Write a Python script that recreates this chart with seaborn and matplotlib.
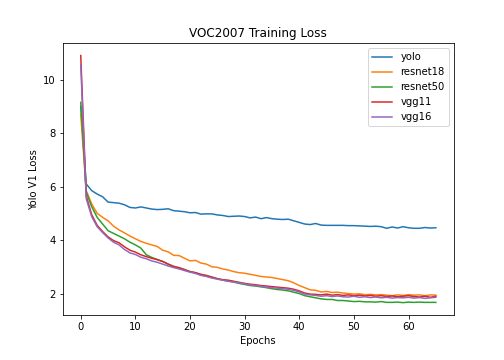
import matplotlib
matplotlib.use("Agg")
import matplotlib.pyplot as plt
import seaborn as sns
import numpy as np
import pandas as pd

epochs = list(range(66))

yolo = [9.0, 6.1, 5.85, 5.72, 5.62, 5.42, 5.40, 5.38, 5.32, 5.22,
        5.20, 5.24, 5.20, 5.16, 5.14, 5.15, 5.17, 5.10, 5.08, 5.06,
        5.02, 5.03, 4.97, 4.98, 4.98, 4.94, 4.92, 4.88, 4.89, 4.90,
        4.88, 4.83, 4.86, 4.80, 4.84, 4.80, 4.78, 4.77, 4.78, 4.72,
        4.66, 4.60, 4.58, 4.62, 4.56, 4.55, 4.55, 4.55, 4.55, 4.54,
        4.54, 4.53, 4.52, 4.51, 4.52, 4.50, 4.44, 4.49, 4.45, 4.50,
        4.46, 4.44, 4.44, 4.47, 4.45, 4.46]

resnet18 = [8.7, 5.85, 5.35, 5.0, 4.85, 4.72, 4.52, 4.38, 4.27, 4.15,
            4.05, 3.95, 3.88, 3.82, 3.76, 3.62, 3.56, 3.43, 3.42, 3.32,
            3.22, 3.24, 3.14, 3.10, 3.00, 2.98, 2.92, 2.88, 2.82, 2.78,
            2.76, 2.72, 2.68, 2.64, 2.62, 2.60, 2.56, 2.52, 2.48, 2.40,
            2.30, 2.22, 2.14, 2.12, 2.06, 2.08, 2.04, 2.05, 2.02, 2.00,
            1.98, 1.99, 1.96, 1.97, 1.95, 1.96, 1.94, 1.92, 1.95, 1.93,
            1.96, 1.94, 1.95, 1.92, 1.95, 1.94]

resnet50 = [9.15, 5.8, 5.25, 4.85, 4.6, 4.35, 4.25, 4.15, 4.05, 3.92,
            3.82, 3.70, 3.45, 3.35, 3.27, 3.20, 3.10, 3.00, 2.95, 2.88,
            2.82, 2.78, 2.70, 2.65, 2.60, 2.55, 2.50, 2.47, 2.43, 2.38,
            2.34, 2.30, 2.28, 2.25, 2.22, 2.18, 2.15, 2.13, 2.10, 2.05,
            2.00, 1.92, 1.88, 1.84, 1.80, 1.78, 1.78, 1.74, 1.74, 1.72,
            1.70, 1.71, 1.69, 1.69, 1.68, 1.70, 1.67, 1.67, 1.68, 1.66,
            1.68, 1.67, 1.68, 1.67, 1.67, 1.67]

vgg11 = [10.9, 5.65, 4.95, 4.55, 4.32, 4.12, 3.98, 3.90, 3.75, 3.62,
         3.55, 3.45, 3.38, 3.32, 3.27, 3.20, 3.10, 3.02, 2.97, 2.90,
         2.82, 2.78, 2.72, 2.68, 2.62, 2.56, 2.52, 2.50, 2.46, 2.42,
         2.38, 2.35, 2.33, 2.30, 2.28, 2.26, 2.24, 2.22, 2.20, 2.16,
         2.10, 2.02, 1.98, 1.97, 1.95, 1.98, 1.94, 1.96, 1.93, 1.95,
         1.92, 1.94, 1.91, 1.93, 1.90, 1.92, 1.89, 1.91, 1.88, 1.90,
         1.92, 1.89, 1.87, 1.90, 1.86, 1.90]

vgg16 = [10.55, 5.55, 4.88, 4.5, 4.28, 4.08, 3.92, 3.82, 3.65, 3.52,
         3.46, 3.36, 3.30, 3.22, 3.17, 3.10, 3.03, 2.97, 2.92, 2.86,
         2.80, 2.75, 2.68, 2.64, 2.58, 2.54, 2.50, 2.46, 2.43, 2.40,
         2.36, 2.32, 2.30, 2.27, 2.24, 2.22, 2.20, 2.18, 2.16, 2.12,
         2.06, 1.98, 1.95, 1.93, 1.90, 1.92, 1.89, 1.91, 1.88, 1.87,
         1.90, 1.86, 1.88, 1.85, 1.87, 1.84, 1.86, 1.83, 1.85, 1.84,
         1.86, 1.83, 1.85, 1.82, 1.84, 1.86]

models = {'yolo': yolo, 'resnet18': resnet18, 'resnet50': resnet50,
          'vgg11': vgg11, 'vgg16': vgg16}

frames = []
for name, loss in models.items():
    frames.append(pd.DataFrame({'epoch': epochs, 'loss': loss, 'model': name}))
df = pd.concat(frames, ignore_index=True)

fig, ax = plt.subplots(figsize=(7, 5), dpi=72)
fig.subplots_adjust(left=0.125, right=0.9, top=0.88, bottom=0.125)
sns.lineplot(data=df, x='epoch', y='loss', hue='model', palette='tab10',
             errorbar=None, ax=ax, linewidth=1.5)

ax.set_title('VOC2007 Training Loss')
ax.set_xlabel('Epochs')
ax.set_ylabel('Yolo V1 Loss')
sns.move_legend(ax, 'upper right', title=None)

fig.savefig('out.png', dpi=72)
